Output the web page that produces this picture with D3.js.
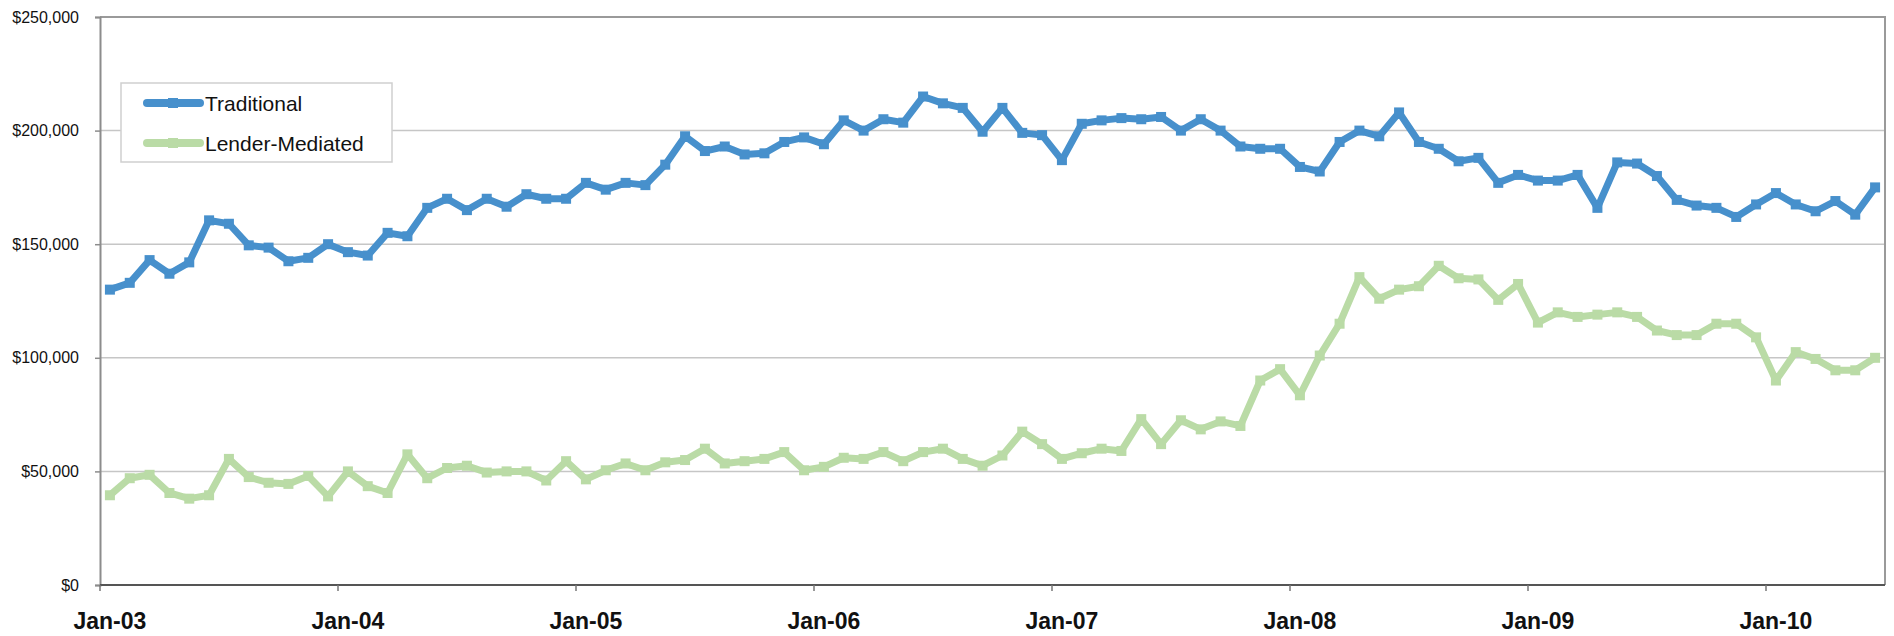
<!DOCTYPE html>
<html>
<head>
<meta charset="utf-8">
<script src="https://cdn.jsdelivr.net/npm/d3@7"></script>
<style>
  html, body { margin: 0; padding: 0; background: #fff; }
  svg { display: block; font-family: "Liberation Sans", Arial, sans-serif; }
</style>
</head>
<body>
<svg id="chart" width="1894" height="636"></svg>
<script>
// ---- data ----
const months = d3.timeMonth.range(new Date(2003, 0, 1), new Date(2010, 6, 1)); // Jan-03 .. Jun-10
const tickLabels = ["Jan-03","Jan-04","Jan-05","Jan-06","Jan-07","Jan-08","Jan-09","Jan-10"];
const yTicks = [0, 50000, 100000, 150000, 200000, 250000];
const seriesNames = ["Traditional", "Lender-Mediated"];

// values in $ thousands
const traditional = [
  130,133,143,137,142,160.5,159,149.5,148.5,142.5,144,150,
  146.5,145,155,153.5,166,170,165,170,166.5,172,170,170,
  177,174,177,176,185,197.5,191,193,189.5,190,195,197,
  194,204.5,200,205,203.5,215,212,210,199.5,210,199,198,
  187,203,204.5,205.5,205,206,200,205,200,193,192,192,
  184,182,195,200,197.5,208,195,192,186.5,188,177,180.5,
  178,178,180.5,166,186,185.5,180,169.5,167,166,162,167.5,
  172.5,167.5,164.5,169,163,175
];
const lenderMediated = [
  39.5,47,48.5,40.5,38,39.5,55.5,47.5,45,44.5,48,39,
  50,43.5,40.5,57.5,47,51.5,52.5,49.5,50,50,46,54.5,
  46.5,50.5,53.5,50.5,54,55,60,53.5,54.5,55.5,58.5,50.5,
  52,56,55.5,58.5,54.5,58.5,60,55.5,52.5,57,67.5,62,
  55.5,58,60,59,73,62,72.5,68.5,72,70,90,95,
  83.5,101,115,135.5,126,130,131.5,140.5,135,134.5,125.5,132.5,
  115.5,120,118,119,120,118,112,110,110,115,115,109,
  90,102.5,99.5,94.5,94.5,100
];

// ---- layout ----
const svg = d3.select("#chart");
const pL = 100, pR = 1885, pT = 17, pB = 585;
const colors = ["#4790cc", "#badba6"];

const x = d3.scaleBand().domain(d3.range(months.length)).range([pL, pR]).padding(0);
const y = d3.scaleLinear().domain([0, 250000]).range([pB, pT]);
const cx = i => x(i) + x.bandwidth() / 2;

// gridlines
svg.append("g").selectAll("line").data(yTicks.filter(t => t > 0 && t < 250000)).join("line")
  .attr("x1", pL).attr("x2", pR)
  .attr("y1", d => y(d)).attr("y2", d => y(d))
  .attr("stroke", "#c6c6c6").attr("stroke-width", 1.5);

// plot border (top & right)
svg.append("path")
  .attr("d", `M${pL},${pT}H${pR}V${pB}`)
  .attr("fill", "none").attr("stroke", "#9a9a9a").attr("stroke-width", 2);

// y axis
const yAxis = d3.axisLeft(y).tickValues(yTicks).tickSize(5).tickPadding(16)
  .tickFormat(d => "$" + d3.format(",")(d));
const gy = svg.append("g").attr("transform", `translate(${pL},0)`).call(yAxis);
gy.select(".domain").attr("stroke", "#8c8c8c").attr("stroke-width", 2);
gy.selectAll(".tick line").attr("stroke", "#8c8c8c").attr("stroke-width", 1.5);
gy.selectAll(".tick text").attr("font-size", 16).attr("fill", "#111")
  .attr("font-family", "'Liberation Sans', Arial, sans-serif");

// x axis
const yearIdx = tickLabels.map((_, k) => k * 12);
const xAxis = d3.axisBottom(x).tickValues(yearIdx).tickSize(6).tickFormat(() => "");
const gx = svg.append("g").attr("transform", `translate(0,${pB})`).call(xAxis);
gx.select(".domain").attr("stroke", "#555").attr("stroke-width", 2).attr("d", `M${pL},0H${pR}`);
gx.selectAll(".tick").attr("transform", d => `translate(${x(d)},0)`);
gx.selectAll(".tick line").attr("stroke", "#777").attr("stroke-width", 1.5);

svg.append("g").selectAll("text").data(tickLabels).join("text")
  .attr("x", (d, k) => cx(yearIdx[k]))
  .attr("y", 629)
  .attr("text-anchor", "middle")
  .attr("font-size", 23).attr("font-weight", "bold").attr("fill", "#111")
  .text(d => d);

// lines
const seriesData = [traditional, lenderMediated];
const line = d3.line().x((d, i) => cx(i)).y(d => y(d * 1000));
const ms = 10;
[1, 0].forEach(s => {
  const g = svg.append("g");
  g.append("path").datum(seriesData[s])
    .attr("d", line).attr("fill", "none")
    .attr("stroke", colors[s]).attr("stroke-width", 7)
    .attr("stroke-linejoin", "round").attr("stroke-linecap", "round");
  g.selectAll("rect").data(seriesData[s]).join("rect")
    .attr("x", (d, i) => cx(i) - ms / 2).attr("y", d => y(d * 1000) - ms / 2)
    .attr("width", ms).attr("height", ms).attr("fill", colors[s]);
});

// legend
const lg = svg.append("g");
lg.append("rect").attr("x", 121).attr("y", 83).attr("width", 271).attr("height", 79)
  .attr("fill", "#fff").attr("stroke", "#cfcfcf").attr("stroke-width", 1.5);
seriesNames.forEach((name, s) => {
  const ly = 103 + s * 40;
  lg.append("line").attr("x1", 147).attr("x2", 200).attr("y1", ly).attr("y2", ly)
    .attr("stroke", colors[s]).attr("stroke-width", 8).attr("stroke-linecap", "round");
  lg.append("rect").attr("x", 173 - ms / 2).attr("y", ly - ms / 2).attr("width", ms).attr("height", ms)
    .attr("fill", colors[s]);
  lg.append("text").attr("x", 205).attr("y", ly + 7.5).attr("font-size", 21).attr("fill", "#111")
    .text(name);
});
</script>
</body>
</html>
